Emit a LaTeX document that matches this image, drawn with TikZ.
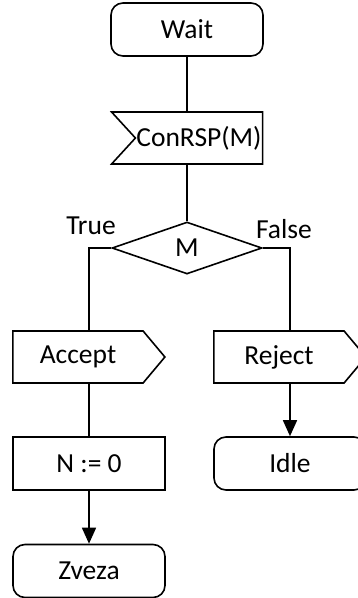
\documentclass[tikz,border=0pt]{standalone}
\usepackage{fontspec}
\setmainfont{Carlito}
\usepackage{tikz}
\usetikzlibrary{shapes.geometric,shapes.symbols,arrows.meta}

\begin{document}
\begin{tikzpicture}[x=1pt, y=-1pt, line width=1.6pt,
			state_style/.style={rectangle,rounded corners=12pt,draw=black,fill=white,minimum width=152pt,minimum height=53pt,inner sep=0pt,font=\fontsize{27.5}{32}\selectfont},
			task_style/.style={rectangle,draw=black,fill=white,minimum width=152pt,minimum height=53pt,inner sep=0pt,font=\fontsize{27.5}{32}\selectfont},
			in_style/.style={signal,signal to=nowhere,signal from=west,signal pointer angle=95,draw=black,fill=white,minimum width=151pt,minimum height=52pt,inner sep=0pt,font=\fontsize{27.5}{32}\selectfont},
			out_style/.style={signal,signal to=east,signal pointer angle=100,draw=black,fill=white,minimum width=152pt,minimum height=52pt,inner sep=0pt,font=\fontsize{27.5}{32}\selectfont},
			dec_style/.style={diamond,draw=black,fill=white,minimum width=150pt,minimum height=52pt,inner sep=0pt,font=\fontsize{27.5}{32}\selectfont},
			label_style/.style={inner sep=0pt,font=\fontsize{27.5}{32}\selectfont},
			edge_style/.style={draw=black},
			arrow_style/.style={draw=black,-{Triangle[width=14pt,length=16pt]}}]
			\clip (0,0) rectangle (358,598);
			\node[state_style] (wait) at (187,29.5) {Wait};
			\node[in_style] (conrsp) at (199,138) {ConRSP(M)};
			\node[dec_style] (m) at (187,248) {M};
			\node[label_style] (true) at (91,226) {True};
			\node[label_style] (false) at (284,229) {False};
			\node[out_style] (accept) at (78,357) {Accept};
			\node[out_style] (reject) at (279,357) {Reject};
			\node[task_style] (n0) at (89,463.5) {N := 0};
			\node[state_style] (idle) at (290,463.5) {Idle};
			\node[state_style] (zveza) at (89,571) {Zveza};
			\draw[edge_style]  (wait) -- ([xshift=-12pt]conrsp.north);
			\draw[edge_style]  ([xshift=-12pt]conrsp.south) -- (m);
			\draw[edge_style]  (m.west) -| ([xshift=11pt]accept.north);
			\draw[edge_style]  (m.east) -| ([xshift=11pt]reject.north);
			\draw[edge_style]  ([xshift=11pt]accept.south) -- (n0);
			\draw[arrow_style] (n0) -- (zveza);
			\draw[arrow_style] ([xshift=11pt]reject.south) -- (idle);
			\end{tikzpicture}
\end{document}
